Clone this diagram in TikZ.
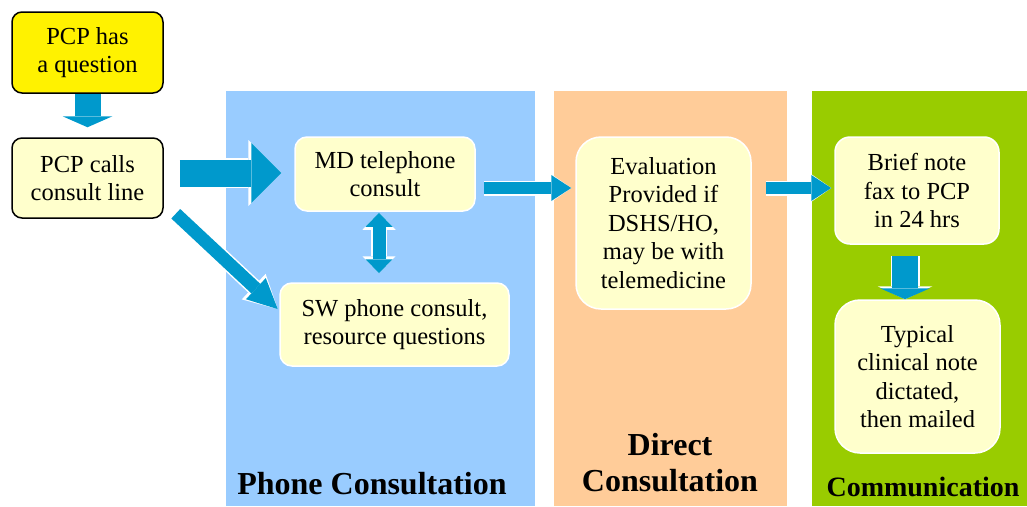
\documentclass[tikz,border=0pt]{standalone}
\usepackage{fontspec}
\setmainfont{Liberation Serif}
\usetikzlibrary{arrows.meta,calc}
\definecolor{arrowblue}{HTML}{0099CC}
\definecolor{cream}{HTML}{FFFFCC}
\definecolor{phoneblue}{HTML}{99CCFF}
\definecolor{directorange}{HTML}{FFCC99}
\definecolor{commgreen}{HTML}{99CC00}
\begin{document}
\begin{tikzpicture}[x=1pt,y=-1pt]
\tikzstyle{box}=[rectangle, rounded corners=12pt, fill=cream, draw=white, line width=1.5pt, align=center, inner sep=0pt, font=\fontsize{24.5}{28.5}\selectfont]
\tikzstyle{startbox}=[box, draw=black, rounded corners=10pt]
\tikzstyle{panel}=[rectangle, inner sep=0pt, anchor=north west]
\tikzstyle{title}=[align=center, font=\bfseries\fontsize{32}{36}\selectfont]
\tikzstyle{downarrow}=[draw=arrowblue, line width=26pt, -{Triangle[length=11pt, width=50pt, line width=0pt]}, preaction={draw=white, line width=29pt, -{Triangle[length=13pt, width=55pt, line width=0pt]}}]
\tikzstyle{bigarrow}=[draw=arrowblue, line width=27pt, -{Triangle[length=30pt, width=60pt, line width=0pt]}, preaction={draw=white, line width=30pt, -{Triangle[length=33pt, width=66pt, line width=0pt]}}]
\tikzstyle{diagarrow}=[draw=arrowblue, line width=13pt, -{Triangle[length=30pt, width=29pt, line width=0pt]}, preaction={draw=white, line width=16pt, -{Triangle[length=33pt, width=35pt, line width=0pt]}}]
\tikzstyle{midarrow}=[draw=arrowblue, line width=12pt, -{Triangle[length=20pt, width=26pt, line width=0pt]}, preaction={draw=white, line width=15pt, -{Triangle[length=23pt, width=32pt, line width=0pt]}}]
\tikzstyle{bothways}=[draw=arrowblue, line width=13pt, {Triangle[length=14pt, width=27pt, line width=0pt]}-{Triangle[length=14pt, width=27pt, line width=0pt]}, preaction={draw=white, line width=16pt, {Triangle[length=17pt, width=33pt, line width=0pt]}-{Triangle[length=17pt, width=33pt, line width=0pt]}}]

\useasboundingbox (0,0) rectangle (1027,506);

  % columns
  \node[panel, fill=phoneblue, minimum width=309pt, minimum height=415pt]    (phone)  at (226,91) {};
  \node[panel, fill=directorange, minimum width=233pt, minimum height=415pt] (direct) at (554,91) {};
  \node[panel, fill=commgreen, minimum width=215pt, minimum height=415pt]    (comm)   at (812,91) {};

  \node[title] (phonetitle)  at (372,484) {Phone Consultation};
  \node[title] (directtitle) at (670,463) {Direct\\Consultation};
  \node[title, font=\bfseries\fontsize{28}{32}\selectfont] (commtitle) at (923,487) {Communication};

  % boxes
  \node[startbox, fill=yellow, minimum width=151pt, minimum height=81pt] (question) at (87.5,52.5) {PCP has\\a question};
  \node[startbox, minimum width=151pt, minimum height=80pt]  (calls)   at (87.5,178)  {PCP calls\\consult line};
  \node[box, minimum width=180pt, minimum height=74pt]       (md)      at (385,174)   {MD telephone\\consult};
  \node[box, minimum width=229pt, minimum height=83pt]       (sw)      at (394.5,324.5) {SW phone consult,\\resource questions};
  \node[box, rounded corners=25pt, minimum width=175pt, minimum height=172pt] (eval) at (663.5,223) {Evaluation\\Provided if\\DSHS/HO,\\may be with\\telemedicine};
  \node[box, rounded corners=15pt, minimum width=164pt, minimum height=107pt] (brief) at (917,190.5) {Brief note\\fax to PCP\\in 24 hrs};
  \node[box, rounded corners=25pt, minimum width=165pt, minimum height=153pt] (typical) at (917.5,376.5) {Typical\\clinical note\\dictated,\\then mailed};

  % arrows
  \coordinate (mdout) at ([yshift=-14pt]md.east);
  \coordinate (evout) at (eval.east |- mdout);

  \path (question.south) edge [downarrow, shorten >=10pt] (calls.north);
  \path ([yshift=5pt]calls.east) edge [bigarrow, shorten <=16pt, shorten >=13pt] ([yshift=1pt]md.west);
  \path ([xshift=12pt,yshift=5pt]calls.south east) edge [diagarrow, shorten >=2pt] ([yshift=14pt]sw.west);
  \path ([xshift=-6pt]md.south) edge [bothways, shorten <=1pt, shorten >=9pt] ([xshift=-6pt]md.south |- sw.north);
  \path (mdout) edge [midarrow, shorten <=8pt, shorten >=4pt] (eval.west |- mdout);
  \path (evout) edge [midarrow, shorten <=14pt, shorten >=3pt] (brief.west |- mdout);
  \path ([xshift=-12pt]brief.south) edge [downarrow, shorten <=11pt] ([xshift=-12pt]brief.south |- typical.north);

\end{tikzpicture}
\end{document}
